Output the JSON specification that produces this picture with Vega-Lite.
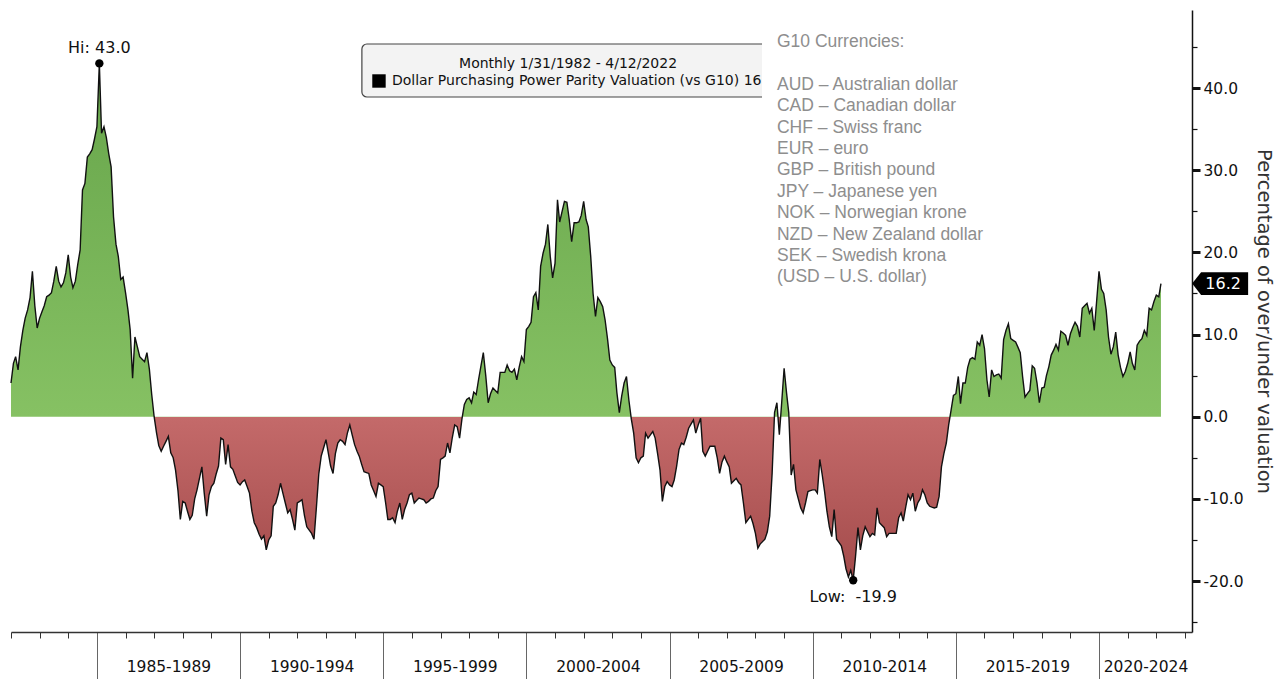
{
"$schema":"https://vega.github.io/schema/vega-lite/v6.json",
"width":1181,"height":622,
"autosize":{"type":"none"},
"padding":{"left":11,"top":10,"right":94,"bottom":47},
"config":{"view":{"stroke":null},"font":"DejaVu Sans","axis":{"labelFont":"DejaVu Sans","titleFont":"DejaVu Sans"}},
"data":{"values":[
{"d":"1982-01","v":4.1},{"d":"1982-02","v":6.5},{"d":"1982-03","v":7.3},{"d":"1982-04","v":5.7},{"d":"1982-05","v":8.5},{"d":"1982-06","v":10.5},{"d":"1982-07","v":12.0},{"d":"1982-08","v":13.0},{"d":"1982-09","v":14.5},{"d":"1982-10","v":17.7},{"d":"1982-11","v":13.5},{"d":"1982-12","v":10.8},
{"d":"1983-01","v":12.0},{"d":"1983-02","v":12.8},{"d":"1983-03","v":13.5},{"d":"1983-04","v":14.6},{"d":"1983-05","v":14.8},{"d":"1983-06","v":15.1},{"d":"1983-07","v":16.5},{"d":"1983-08","v":18.3},{"d":"1983-09","v":16.5},{"d":"1983-10","v":15.8},{"d":"1983-11","v":16.3},{"d":"1983-12","v":17.5},
{"d":"1984-01","v":19.7},{"d":"1984-02","v":17.0},{"d":"1984-03","v":15.7},{"d":"1984-04","v":16.5},{"d":"1984-05","v":18.5},{"d":"1984-06","v":20.3},{"d":"1984-07","v":27.6},{"d":"1984-08","v":28.4},{"d":"1984-09","v":31.6},{"d":"1984-10","v":32.0},{"d":"1984-11","v":32.5},{"d":"1984-12","v":33.8},
{"d":"1985-01","v":35.3},{"d":"1985-02","v":43.0},{"d":"1985-03","v":34.5},{"d":"1985-04","v":35.3},{"d":"1985-05","v":34.0},{"d":"1985-06","v":32.0},{"d":"1985-07","v":30.4},{"d":"1985-08","v":24.3},{"d":"1985-09","v":21.0},{"d":"1985-10","v":19.5},{"d":"1985-11","v":16.7},{"d":"1985-12","v":17.0},
{"d":"1986-01","v":15.1},{"d":"1986-02","v":13.0},{"d":"1986-03","v":10.6},{"d":"1986-04","v":4.7},{"d":"1986-05","v":9.7},{"d":"1986-06","v":8.5},{"d":"1986-07","v":7.3},{"d":"1986-08","v":7.0},{"d":"1986-09","v":6.7},{"d":"1986-10","v":7.8},{"d":"1986-11","v":5.8},{"d":"1986-12","v":2.7},
{"d":"1987-01","v":0.0},{"d":"1987-02","v":-2.0},{"d":"1987-03","v":-3.5},{"d":"1987-04","v":-4.2},{"d":"1987-05","v":-3.6},{"d":"1987-06","v":-3.0},{"d":"1987-07","v":-2.4},{"d":"1987-08","v":-4.4},{"d":"1987-09","v":-5.0},{"d":"1987-10","v":-6.5},{"d":"1987-11","v":-9.0},{"d":"1987-12","v":-12.5},
{"d":"1988-01","v":-10.3},{"d":"1988-02","v":-10.5},{"d":"1988-03","v":-11.5},{"d":"1988-04","v":-12.5},{"d":"1988-05","v":-12.0},{"d":"1988-06","v":-10.0},{"d":"1988-07","v":-8.9},{"d":"1988-08","v":-7.5},{"d":"1988-09","v":-6.1},{"d":"1988-10","v":-9.3},{"d":"1988-11","v":-12.1},{"d":"1988-12","v":-9.5},
{"d":"1989-01","v":-8.5},{"d":"1989-02","v":-8.1},{"d":"1989-03","v":-7.0},{"d":"1989-04","v":-6.0},{"d":"1989-05","v":-2.6},{"d":"1989-06","v":-2.8},{"d":"1989-07","v":-5.8},{"d":"1989-08","v":-3.4},{"d":"1989-09","v":-6.1},{"d":"1989-10","v":-6.4},{"d":"1989-11","v":-7.2},{"d":"1989-12","v":-8.0},
{"d":"1990-01","v":-8.3},{"d":"1990-02","v":-7.9},{"d":"1990-03","v":-7.7},{"d":"1990-04","v":-8.5},{"d":"1990-05","v":-9.3},{"d":"1990-06","v":-11.5},{"d":"1990-07","v":-12.9},{"d":"1990-08","v":-13.5},{"d":"1990-09","v":-14.3},{"d":"1990-10","v":-14.9},{"d":"1990-11","v":-14.5},{"d":"1990-12","v":-16.2},
{"d":"1991-01","v":-15.0},{"d":"1991-02","v":-14.5},{"d":"1991-03","v":-10.9},{"d":"1991-04","v":-10.5},{"d":"1991-05","v":-9.5},{"d":"1991-06","v":-8.1},{"d":"1991-07","v":-9.3},{"d":"1991-08","v":-10.5},{"d":"1991-09","v":-11.7},{"d":"1991-10","v":-11.3},{"d":"1991-11","v":-12.5},{"d":"1991-12","v":-13.8},
{"d":"1992-01","v":-10.5},{"d":"1992-02","v":-10.3},{"d":"1992-03","v":-10.1},{"d":"1992-04","v":-12.0},{"d":"1992-05","v":-13.4},{"d":"1992-06","v":-13.8},{"d":"1992-07","v":-14.2},{"d":"1992-08","v":-14.9},{"d":"1992-09","v":-11.0},{"d":"1992-10","v":-7.0},{"d":"1992-11","v":-4.8},{"d":"1992-12","v":-3.8},
{"d":"1993-01","v":-2.8},{"d":"1993-02","v":-4.5},{"d":"1993-03","v":-6.0},{"d":"1993-04","v":-6.9},{"d":"1993-05","v":-4.5},{"d":"1993-06","v":-3.2},{"d":"1993-07","v":-2.8},{"d":"1993-08","v":-3.0},{"d":"1993-09","v":-3.4},{"d":"1993-10","v":-2.0},{"d":"1993-11","v":-1.0},{"d":"1993-12","v":-2.2},
{"d":"1994-01","v":-3.4},{"d":"1994-02","v":-4.2},{"d":"1994-03","v":-4.8},{"d":"1994-04","v":-5.8},{"d":"1994-05","v":-6.7},{"d":"1994-06","v":-6.8},{"d":"1994-07","v":-6.9},{"d":"1994-08","v":-8.3},{"d":"1994-09","v":-9.0},{"d":"1994-10","v":-9.7},{"d":"1994-11","v":-8.1},{"d":"1994-12","v":-8.3},
{"d":"1995-01","v":-8.5},{"d":"1995-02","v":-10.5},{"d":"1995-03","v":-12.5},{"d":"1995-04","v":-12.5},{"d":"1995-05","v":-12.3},{"d":"1995-06","v":-12.9},{"d":"1995-07","v":-11.5},{"d":"1995-08","v":-10.5},{"d":"1995-09","v":-12.5},{"d":"1995-10","v":-11.3},{"d":"1995-11","v":-10.5},{"d":"1995-12","v":-9.5},
{"d":"1996-01","v":-9.3},{"d":"1996-02","v":-10.5},{"d":"1996-03","v":-10.2},{"d":"1996-04","v":-9.9},{"d":"1996-05","v":-10.0},{"d":"1996-06","v":-10.1},{"d":"1996-07","v":-10.5},{"d":"1996-08","v":-10.3},{"d":"1996-09","v":-10.0},{"d":"1996-10","v":-9.9},{"d":"1996-11","v":-9.0},{"d":"1996-12","v":-8.5},
{"d":"1997-01","v":-5.2},{"d":"1997-02","v":-5.0},{"d":"1997-03","v":-4.8},{"d":"1997-04","v":-3.2},{"d":"1997-05","v":-4.4},{"d":"1997-06","v":-2.5},{"d":"1997-07","v":-1.0},{"d":"1997-08","v":-1.2},{"d":"1997-09","v":-2.6},{"d":"1997-10","v":-0.3},{"d":"1997-11","v":1.5},{"d":"1997-12","v":2.1},
{"d":"1998-01","v":2.3},{"d":"1998-02","v":1.7},{"d":"1998-03","v":3.0},{"d":"1998-04","v":2.7},{"d":"1998-05","v":4.5},{"d":"1998-06","v":6.2},{"d":"1998-07","v":7.8},{"d":"1998-08","v":5.0},{"d":"1998-09","v":1.7},{"d":"1998-10","v":2.8},{"d":"1998-11","v":3.5},{"d":"1998-12","v":3.2},
{"d":"1999-01","v":2.9},{"d":"1999-02","v":5.4},{"d":"1999-03","v":5.4},{"d":"1999-04","v":5.4},{"d":"1999-05","v":6.3},{"d":"1999-06","v":5.6},{"d":"1999-07","v":5.4},{"d":"1999-08","v":5.8},{"d":"1999-09","v":4.5},{"d":"1999-10","v":6.0},{"d":"1999-11","v":7.3},{"d":"1999-12","v":6.7},
{"d":"2000-01","v":10.6},{"d":"2000-02","v":11.0},{"d":"2000-03","v":11.5},{"d":"2000-04","v":14.6},{"d":"2000-05","v":15.1},{"d":"2000-06","v":13.0},{"d":"2000-07","v":18.3},{"d":"2000-08","v":19.9},{"d":"2000-09","v":21.0},{"d":"2000-10","v":23.4},{"d":"2000-11","v":19.5},{"d":"2000-12","v":16.9},
{"d":"2001-01","v":18.7},{"d":"2001-02","v":26.4},{"d":"2001-03","v":23.7},{"d":"2001-04","v":25.0},{"d":"2001-05","v":26.2},{"d":"2001-06","v":26.1},{"d":"2001-07","v":24.0},{"d":"2001-08","v":21.3},{"d":"2001-09","v":23.6},{"d":"2001-10","v":23.6},{"d":"2001-11","v":23.7},{"d":"2001-12","v":24.5},
{"d":"2002-01","v":26.2},{"d":"2002-02","v":24.0},{"d":"2002-03","v":23.1},{"d":"2002-04","v":19.5},{"d":"2002-05","v":15.0},{"d":"2002-06","v":12.2},{"d":"2002-07","v":14.5},{"d":"2002-08","v":14.0},{"d":"2002-09","v":13.4},{"d":"2002-10","v":11.8},{"d":"2002-11","v":9.5},{"d":"2002-12","v":6.9},
{"d":"2003-01","v":6.3},{"d":"2003-02","v":6.0},{"d":"2003-03","v":2.9},{"d":"2003-04","v":0.5},{"d":"2003-05","v":2.5},{"d":"2003-06","v":4.1},{"d":"2003-07","v":4.9},{"d":"2003-08","v":2.0},{"d":"2003-09","v":-0.3},{"d":"2003-10","v":-2.0},{"d":"2003-11","v":-5.0},{"d":"2003-12","v":-5.6},
{"d":"2004-01","v":-5.0},{"d":"2004-02","v":-4.8},{"d":"2004-03","v":-2.0},{"d":"2004-04","v":-2.6},{"d":"2004-05","v":-2.2},{"d":"2004-06","v":-1.8},{"d":"2004-07","v":-2.6},{"d":"2004-08","v":-4.5},{"d":"2004-09","v":-6.5},{"d":"2004-10","v":-10.3},{"d":"2004-11","v":-8.5},{"d":"2004-12","v":-7.9},
{"d":"2005-01","v":-8.3},{"d":"2005-02","v":-8.5},{"d":"2005-03","v":-7.7},{"d":"2005-04","v":-6.0},{"d":"2005-05","v":-4.0},{"d":"2005-06","v":-3.2},{"d":"2005-07","v":-3.4},{"d":"2005-08","v":-2.5},{"d":"2005-09","v":-1.4},{"d":"2005-10","v":-0.9},{"d":"2005-11","v":-0.4},{"d":"2005-12","v":-2.0},
{"d":"2006-01","v":-1.0},{"d":"2006-02","v":-0.2},{"d":"2006-03","v":-4.2},{"d":"2006-04","v":-4.8},{"d":"2006-05","v":-4.2},{"d":"2006-06","v":-3.6},{"d":"2006-07","v":-3.6},{"d":"2006-08","v":-3.6},{"d":"2006-09","v":-5.0},{"d":"2006-10","v":-6.9},{"d":"2006-11","v":-5.5},{"d":"2006-12","v":-4.8},
{"d":"2007-01","v":-5.5},{"d":"2007-02","v":-6.1},{"d":"2007-03","v":-8.1},{"d":"2007-04","v":-7.8},{"d":"2007-05","v":-7.5},{"d":"2007-06","v":-8.0},{"d":"2007-07","v":-8.3},{"d":"2007-08","v":-10.5},{"d":"2007-09","v":-12.9},{"d":"2007-10","v":-12.5},{"d":"2007-11","v":-12.1},{"d":"2007-12","v":-13.0},
{"d":"2008-01","v":-14.2},{"d":"2008-02","v":-16.0},{"d":"2008-03","v":-15.5},{"d":"2008-04","v":-15.2},{"d":"2008-05","v":-14.9},{"d":"2008-06","v":-14.0},{"d":"2008-07","v":-12.1},{"d":"2008-08","v":-6.9},{"d":"2008-09","v":0.5},{"d":"2008-10","v":1.7},{"d":"2008-11","v":-2.2},{"d":"2008-12","v":1.7},
{"d":"2009-01","v":5.9},{"d":"2009-02","v":2.9},{"d":"2009-03","v":0.5},{"d":"2009-04","v":-7.1},{"d":"2009-05","v":-5.8},{"d":"2009-06","v":-8.9},{"d":"2009-07","v":-10.0},{"d":"2009-08","v":-11.1},{"d":"2009-09","v":-11.7},{"d":"2009-10","v":-10.5},{"d":"2009-11","v":-9.1},{"d":"2009-12","v":-9.0},
{"d":"2010-01","v":-8.9},{"d":"2010-02","v":-8.9},{"d":"2010-03","v":-9.3},{"d":"2010-04","v":-5.2},{"d":"2010-05","v":-7.0},{"d":"2010-06","v":-9.1},{"d":"2010-07","v":-11.5},{"d":"2010-08","v":-13.4},{"d":"2010-09","v":-14.6},{"d":"2010-10","v":-11.3},{"d":"2010-11","v":-14.9},{"d":"2010-12","v":-15.3},
{"d":"2011-01","v":-15.7},{"d":"2011-02","v":-17.0},{"d":"2011-03","v":-18.5},{"d":"2011-04","v":-19.5},{"d":"2011-05","v":-18.7},{"d":"2011-06","v":-19.9},{"d":"2011-07","v":-17.0},{"d":"2011-08","v":-13.5},{"d":"2011-09","v":-16.2},{"d":"2011-10","v":-14.5},{"d":"2011-11","v":-13.4},{"d":"2011-12","v":-14.0},
{"d":"2012-01","v":-14.6},{"d":"2012-02","v":-14.2},{"d":"2012-03","v":-14.4},{"d":"2012-04","v":-11.1},{"d":"2012-05","v":-12.9},{"d":"2012-06","v":-13.2},{"d":"2012-07","v":-13.5},{"d":"2012-08","v":-14.6},{"d":"2012-09","v":-14.2},{"d":"2012-10","v":-14.2},{"d":"2012-11","v":-14.2},{"d":"2012-12","v":-14.2},
{"d":"2013-01","v":-12.3},{"d":"2013-02","v":-11.7},{"d":"2013-03","v":-12.7},{"d":"2013-04","v":-11.0},{"d":"2013-05","v":-9.5},{"d":"2013-06","v":-10.1},{"d":"2013-07","v":-9.3},{"d":"2013-08","v":-11.5},{"d":"2013-09","v":-10.5},{"d":"2013-10","v":-10.0},{"d":"2013-11","v":-8.9},{"d":"2013-12","v":-9.5},
{"d":"2014-01","v":-10.5},{"d":"2014-02","v":-10.9},{"d":"2014-03","v":-11.0},{"d":"2014-04","v":-11.1},{"d":"2014-05","v":-11.0},{"d":"2014-06","v":-9.7},{"d":"2014-07","v":-6.1},{"d":"2014-08","v":-4.5},{"d":"2014-09","v":-3.2},{"d":"2014-10","v":-1.0},{"d":"2014-11","v":0.8},{"d":"2014-12","v":2.6},
{"d":"2015-01","v":2.8},{"d":"2015-02","v":4.9},{"d":"2015-03","v":1.6},{"d":"2015-04","v":4.1},{"d":"2015-05","v":4.1},{"d":"2015-06","v":6.0},{"d":"2015-07","v":7.0},{"d":"2015-08","v":7.2},{"d":"2015-09","v":7.0},{"d":"2015-10","v":9.1},{"d":"2015-11","v":8.7},{"d":"2015-12","v":10.0},
{"d":"2016-01","v":8.3},{"d":"2016-02","v":4.5},{"d":"2016-03","v":2.4},{"d":"2016-04","v":5.7},{"d":"2016-05","v":4.9},{"d":"2016-06","v":5.1},{"d":"2016-07","v":5.2},{"d":"2016-08","v":4.7},{"d":"2016-09","v":9.4},{"d":"2016-10","v":10.5},{"d":"2016-11","v":11.3},{"d":"2016-12","v":9.5},
{"d":"2017-01","v":9.3},{"d":"2017-02","v":9.1},{"d":"2017-03","v":8.5},{"d":"2017-04","v":7.8},{"d":"2017-05","v":4.9},{"d":"2017-06","v":2.4},{"d":"2017-07","v":2.8},{"d":"2017-08","v":3.2},{"d":"2017-09","v":6.2},{"d":"2017-10","v":5.9},{"d":"2017-11","v":4.1},{"d":"2017-12","v":1.7},
{"d":"2018-01","v":3.5},{"d":"2018-02","v":3.6},{"d":"2018-03","v":5.0},{"d":"2018-04","v":6.1},{"d":"2018-05","v":7.5},{"d":"2018-06","v":8.1},{"d":"2018-07","v":8.8},{"d":"2018-08","v":8.1},{"d":"2018-09","v":10.4},{"d":"2018-10","v":10.2},{"d":"2018-11","v":9.9},{"d":"2018-12","v":8.7},
{"d":"2019-01","v":10.1},{"d":"2019-02","v":10.9},{"d":"2019-03","v":11.5},{"d":"2019-04","v":11.0},{"d":"2019-05","v":9.7},{"d":"2019-06","v":13.2},{"d":"2019-07","v":13.5},{"d":"2019-08","v":13.8},{"d":"2019-09","v":12.6},{"d":"2019-10","v":13.2},{"d":"2019-11","v":10.5},{"d":"2019-12","v":14.0},
{"d":"2020-01","v":17.7},{"d":"2020-02","v":15.5},{"d":"2020-03","v":15.0},{"d":"2020-04","v":13.0},{"d":"2020-05","v":9.7},{"d":"2020-06","v":7.6},{"d":"2020-07","v":8.5},{"d":"2020-08","v":10.3},{"d":"2020-09","v":7.5},{"d":"2020-10","v":6.0},{"d":"2020-11","v":4.9},{"d":"2020-12","v":5.5},
{"d":"2021-01","v":6.5},{"d":"2021-02","v":7.9},{"d":"2021-03","v":6.5},{"d":"2021-04","v":5.7},{"d":"2021-05","v":8.7},{"d":"2021-06","v":9.2},{"d":"2021-07","v":9.5},{"d":"2021-08","v":10.5},{"d":"2021-09","v":9.9},{"d":"2021-10","v":13.2},{"d":"2021-11","v":13.0},{"d":"2021-12","v":14.0},
{"d":"2022-01","v":14.8},{"d":"2022-02","v":14.6},{"d":"2022-03","v":16.2}
]},
"layer":[
{"mark":{"type":"area","fill":{"gradient":"linear","x1":0,"y1":0,"x2":0,"y2":1,"stops":[{"offset":0,"color":"#67a54b"},{"offset":0.6836,"color":"#86c163"},{"offset":0.6836,"color":"#c46a6a"},{"offset":1,"color":"#a34b4b"}]}},
 "encoding":{
  "x":{"field":"d","type":"temporal","scale":{"type":"utc","domain":[{"year":1982,"month":1,"date":1,"utc":true},{"year":2023,"month":4,"date":1,"utc":true}]},
   "axis":{"orient":"bottom","title":null,"labels":false,"grid":false,"domain":true,"domainColor":"#333333","domainWidth":1.5,"tickCount":{"interval":"year","step":1},
    "tickSize":{"condition":{"test":"utcyear(datum.value) % 5 === 0","value":47},"value":6},
    "tickColor":{"condition":{"test":"utcyear(datum.value) % 5 === 0","value":"#666666"},"value":"#333333"},"tickWidth":1}},
  "y":{"field":"v","type":"quantitative","scale":{"domain":[-26.2,49.5],"nice":false,"zero":false},
   "axis":{"orient":"right","values":[-25,-20,-15,-10,-5,0,5,10,15,20,25,30,35,40,45],
    "labelExpr":"datum.value % 10 === 0 ? (datum.value < 0 ? '-' : '') + format(abs(datum.value), '.1f') : ''",
    "tickSize":{"condition":{"test":"datum.value % 10 === 0","value":8},"value":5},
    "tickWidth":{"condition":{"test":"datum.value % 10 === 0","value":3},"value":1.2},
    "tickColor":"#111111","domainColor":"#111111","domainWidth":1.5,"grid":false,
    "labelFontSize":15.5,"labelColor":"#111111","labelPadding":3,"labelFlush":false,"labelOverlap":false,
    "title":"Percentage of over/under valuation","titleFontSize":19.5,"titleFontWeight":"normal","titleColor":"#333333","titlePadding":10}}}},
{"mark":{"type":"line","color":"#111111","strokeWidth":1.4},
 "encoding":{
  "x":{"field":"d","type":"temporal",
   "axis":{"orient":"bottom","title":null,"domain":false,"ticks":false,"tickSize":0,"grid":false,
    "values":[{"year":1987,"month":7,"date":2,"utc":true},{"year":1992,"month":7,"date":2,"utc":true},{"year":1997,"month":7,"date":2,"utc":true},{"year":2002,"month":7,"date":2,"utc":true},{"year":2007,"month":7,"date":2,"utc":true},{"year":2012,"month":7,"date":2,"utc":true},{"year":2017,"month":7,"date":2,"utc":true},{"year":2021,"month":8,"date":16,"utc":true}],
    "labelExpr":"(floor(utcyear(datum.value)/5)*5) + '-' + (floor(utcyear(datum.value)/5)*5 + 4)",
    "labelPadding":27,"labelFontSize":15.5,"labelColor":"#111111","labelFlush":false,"labelOverlap":false}},
  "y":{"field":"v","type":"quantitative","axis":null}}},
{"transform":[{"filter":"datum.v === 43 || datum.v === -19.9"}],
 "mark":{"type":"point","filled":true,"color":"#000000","size":70,"opacity":1},
 "encoding":{"x":{"field":"d","type":"temporal","axis":null},"y":{"field":"v","type":"quantitative","axis":null}}},
{"transform":[{"filter":"datum.v === 43"}],
 "mark":{"type":"text","dy":-15,"fontSize":16,"color":"#111111","align":"center","baseline":"middle"},
 "encoding":{"x":{"field":"d","type":"temporal","axis":null},"y":{"field":"v","type":"quantitative","axis":null},"text":{"value":"Hi: 43.0"}}},
{"transform":[{"filter":"datum.v === -19.9"}],
 "mark":{"type":"text","dy":17,"fontSize":16,"color":"#111111","align":"center","baseline":"middle"},
 "encoding":{"x":{"field":"d","type":"temporal","axis":null},"y":{"field":"v","type":"quantitative","axis":null},"text":{"value":"Low:\u00a0 -19.9"}}},
{"data":{"values":[{}]},
 "mark":{"type":"rect","fill":"#f3f3f3","stroke":"#444444","strokeWidth":1.2,"cornerRadius":5},
 "encoding":{"x":{"datum":{"year":1994,"month":4,"date":4,"utc":true},"type":"temporal","axis":null},"x2":{"datum":{"year":2010,"month":1,"date":1,"utc":true}},
  "y":{"datum":45.36,"type":"quantitative","axis":null},"y2":{"datum":38.91}}},
{"data":{"values":[{}]},
 "mark":{"type":"text","fontSize":14,"color":"#111111","align":"center","baseline":"middle"},
 "encoding":{"x":{"datum":{"year":2001,"month":6,"date":16,"utc":true},"type":"temporal","axis":null},"y":{"datum":42.93,"type":"quantitative","axis":null},"text":{"value":"Monthly 1/31/1982 - 4/12/2022"}}},
{"data":{"values":[{}]},
 "mark":{"type":"point","shape":"square","filled":true,"color":"#000000","size":180,"opacity":1},
 "encoding":{"x":{"datum":{"year":1994,"month":11,"date":8,"utc":true},"type":"temporal","axis":null},"y":{"datum":40.86,"type":"quantitative","axis":null}}},
{"data":{"values":[{}]},
 "mark":{"type":"text","fontSize":14,"color":"#111111","align":"left","baseline":"middle"},
 "encoding":{"x":{"datum":{"year":1995,"month":4,"date":22,"utc":true},"type":"temporal","axis":null},"y":{"datum":40.86,"type":"quantitative","axis":null},"text":{"value":"Dollar Purchasing Power Parity Valuation (vs G10) 16.2"}}},
{"data":{"values":[{}]},
 "mark":{"type":"rect","fill":"#ffffff"},
 "encoding":{"x":{"datum":{"year":2008,"month":3,"date":25,"utc":true},"type":"temporal","axis":null},"x2":{"datum":{"year":2012,"month":1,"date":1,"utc":true}},
  "y":{"datum":49.5,"type":"quantitative","axis":null},"y2":{"datum":36}}},
{"data":{"values":[{}]},
 "mark":{"type":"text","font":"Liberation Sans","fontSize":17.5,"color":"#8e8e8e","align":"left","baseline":"alphabetic"},
 "encoding":{"x":{"datum":{"year":2008,"month":10,"date":2,"utc":true},"type":"temporal","axis":null},"y":{"datum":45.0,"type":"quantitative","axis":null},
  "text":{"value":"G10 Currencies:"}}},
{"data":{"values":[{}]},
 "mark":{"type":"text","font":"Liberation Sans","fontSize":17.5,"lineHeight":21.4,"color":"#8e8e8e","align":"left","baseline":"alphabetic"},
 "encoding":{"x":{"datum":{"year":2008,"month":10,"date":2,"utc":true},"type":"temporal","axis":null},"y":{"datum":39.79,"type":"quantitative","axis":null},
  "text":{"value":["AUD – Australian dollar","CAD – Canadian dollar","CHF – Swiss franc","EUR – euro","GBP – British pound","JPY – Japanese yen","NOK – Norwegian krone","NZD – New Zealand dollar","SEK – Swedish krona","(USD – U.S. dollar)"]}}},
{"data":{"values":[{}]},
 "mark":{"type":"point","shape":"M -1 0 L -0.68 -0.41 L 1 -0.41 L 1 0.41 L -0.68 0.41 Z","filled":true,"color":"#000000","size":3136,"opacity":1},
 "encoding":{"x":{"datum":{"year":2024,"month":3,"date":25,"utc":true},"type":"temporal","axis":null},"y":{"datum":16.2,"type":"quantitative","axis":null}}},
{"data":{"values":[{}]},
 "mark":{"type":"text","fontSize":16,"color":"#ffffff","align":"center","baseline":"middle","dx":3},
 "encoding":{"x":{"datum":{"year":2024,"month":3,"date":25,"utc":true},"type":"temporal","axis":null},"y":{"datum":16.2,"type":"quantitative","axis":null},"text":{"value":"16.2"}}}
],
"resolve":{"axis":{"x":"independent","y":"independent"}}
}
